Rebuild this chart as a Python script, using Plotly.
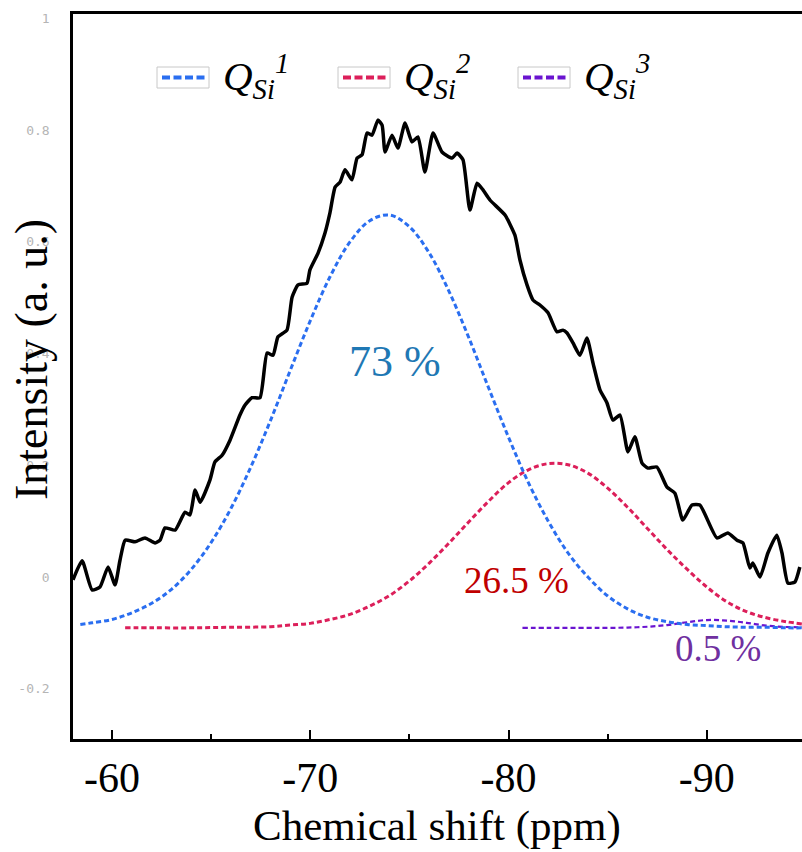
import plotly.graph_objects as go

# ---- measured spectrum (chemical shift in ppm, intensity a.u.) ----
shift = [-58.03, -58.49, -58.99, -59.39, -59.80, -60.15, -60.40, -60.66, -61.16, -61.66,
         -62.17, -62.42, -62.67, -63.18, -63.68, -63.93, -64.19, -64.44, -64.94, -65.19,
         -65.55, -65.95, -66.45, -66.71, -67.06, -67.46, -67.82, -68.12, -68.37, -68.82,
         -69.08, -69.38, -69.83, -69.98, -70.39, -70.74, -70.99, -71.25, -71.50, -71.75,
         -72.10, -72.36, -72.61, -72.86, -73.11, -73.41, -73.62, -73.77, -74.12, -74.42,
         -74.78, -75.13, -75.43, -75.78, -76.19, -76.64, -77.15, -77.40, -77.70, -78.05,
         -78.41, -78.71, -79.06, -79.82, -80.32, -80.57, -80.93, -81.23, -81.58, -81.99,
         -82.44, -82.74, -82.95, -83.25, -83.60, -83.95, -84.26, -84.61, -84.96, -85.26,
         -85.62, -86.02, -86.37, -86.73, -87.03, -87.48, -87.99, -88.39, -88.79, -89.25,
         -89.65, -90.51, -91.06, -91.52, -91.82, -92.17, -92.32, -92.68, -93.08, -93.53,
         -93.79, -94.09, -94.44, -94.69]
intensity = [-0.005, 0.029, -0.023, -0.018, 0.018, -0.014, 0.030, 0.066, 0.063, 0.070,
             0.061, 0.066, 0.088, 0.084, 0.116, 0.111, 0.156, 0.134, 0.174, 0.206,
             0.218, 0.245, 0.290, 0.308, 0.321, 0.321, 0.401, 0.397, 0.430, 0.442,
             0.501, 0.523, 0.526, 0.550, 0.580, 0.616, 0.652, 0.698, 0.707, 0.729,
             0.711, 0.750, 0.756, 0.795, 0.791, 0.818, 0.809, 0.761, 0.791, 0.768,
             0.813, 0.779, 0.788, 0.725, 0.795, 0.761, 0.750, 0.759, 0.747, 0.657,
             0.705, 0.693, 0.675, 0.648, 0.612, 0.568, 0.523, 0.496, 0.487, 0.473,
             0.439, 0.442, 0.437, 0.419, 0.397, 0.428, 0.383, 0.335, 0.312, 0.281,
             0.290, 0.224, 0.251, 0.204, 0.195, 0.197, 0.161, 0.150, 0.102, 0.129,
             0.129, 0.070, 0.079, 0.066, 0.061, 0.016, 0.025, 0.000, 0.043, 0.075,
             0.043, -0.011, -0.009, 0.018]

# ---- fitted components ----
q1_shift = [-58.4, -59, -60, -61, -62, -63, -64, -65, -66, -67, -68, -69, -70, -71, -72,
            -73, -74, -75, -76, -77, -78, -79, -80, -81, -82, -83, -84, -85, -86, -87,
            -88, -89, -90, -91, -92, -93, -94, -94.8]
q1_int = [-0.085, -0.082, -0.076, -0.064, -0.047, -0.022, 0.014, 0.062, 0.123, 0.197,
          0.281, 0.371, 0.459, 0.538, 0.600, 0.638, 0.648, 0.627, 0.580, 0.511,
          0.428, 0.338, 0.250, 0.169, 0.100, 0.043, 0.000, -0.034, -0.057, -0.072,
          -0.080, -0.085, -0.087, -0.089, -0.090, -0.090, -0.091, -0.091]

q2_shift = [-60.66, -62, -64, -66, -68, -69, -70, -71, -72, -73, -74, -75, -76, -77, -78,
            -79, -80, -81, -82, -83, -84, -85, -86, -87, -88, -89, -90, -91, -92, -93,
            -94, -94.8]
q2_int = [-0.091, -0.091, -0.091, -0.090, -0.089, -0.086, -0.083, -0.076, -0.067, -0.052,
          -0.033, -0.007, 0.025, 0.061, 0.099, 0.136, 0.169, 0.192, 0.203, 0.201,
          0.186, 0.159, 0.125, 0.087, 0.049, 0.014, -0.018, -0.044, -0.062, -0.073,
          -0.080, -0.084]

q3_shift = [-80.7, -82, -84, -85, -86, -87, -88, -89, -90, -91, -92, -93, -94, -94.8]
q3_int = [-0.091, -0.091, -0.091, -0.091, -0.0905, -0.089, -0.086, -0.081, -0.077, -0.078,
          -0.082, -0.087, -0.0895, -0.090]

x_ticks = [-60, -70, -80, -90]
x_minor = [-65, -75, -85]
y_ticks = [-0.2, 0, 0.2, 0.4, 0.6, 0.8, 1]
y_ticktext = ["-0.2", "0", "0.2", "0.4", "0.6", "0.8", "1"]

names = ["<i>Q</i><sub><i>Si</i></sub><sup><i>1</i></sup>",
         "<i>Q</i><sub><i>Si</i></sub><sup><i>2</i></sup>",
         "<i>Q</i><sub><i>Si</i></sub><sup><i>3</i></sup>"]
pct_labels = ["73 %", "26.5 %", "0.5 %"]

BLUE = "#2a6ef0"
RED = "#dc1f5a"
PURPLE = "#6a14d0"
SERIF = "Liberation Serif"

fig = go.Figure()
fig.add_trace(go.Scatter(x=q3_shift, y=q3_int, mode="lines", line_shape="spline",
                         line=dict(color=PURPLE, width=2.2, dash="5px,3px"), showlegend=False))
fig.add_trace(go.Scatter(x=q2_shift, y=q2_int, mode="lines", line_shape="spline",
                         line=dict(color=RED, width=3, dash="5px,3px"), showlegend=False))
fig.add_trace(go.Scatter(x=q1_shift, y=q1_int, mode="lines", line_shape="spline",
                         line=dict(color=BLUE, width=3, dash="5px,3px"), showlegend=False))
fig.add_trace(go.Scatter(x=shift, y=intensity, mode="lines",
                         line=dict(color="black", width=3.5, shape="spline", smoothing=0.5),
                         showlegend=False))

L, R, T, B = 73, 802, 14, 739
def fx(px):
    return (px - L) / (R - L)
def fy(py):
    return (B - py) / (B - T)

shapes = []
annotations = []
legend_boxes = [(157, 209, BLUE), (338, 390, RED), (518, 570, PURPLE)]
for i, (x0, x1, col) in enumerate(legend_boxes):
    shapes.append(dict(type="rect", xref="paper", yref="paper",
                       x0=fx(x0), x1=fx(x1), y0=fy(88), y1=fy(67),
                       line=dict(color="#c8c8c8", width=1), fillcolor="rgba(0,0,0,0)"))
    shapes.append(dict(type="line", xref="paper", yref="paper",
                       x0=fx(x0 + 5), x1=fx(x1 - 4), y0=fy(77.5), y1=fy(77.5),
                       line=dict(color=col, width=4, dash="8px,3.5px")))
    annotations.append(dict(xref="paper", yref="paper", x=fx(x1 + 12), y=fy(76),
                            xanchor="left", yanchor="middle", showarrow=False,
                            text=names[i], font=dict(family=SERIF, size=41, color="black")))

annotations.append(dict(x=-74.27, y=0.385, text=pct_labels[0], showarrow=False,
                        font=dict(family=SERIF, size=44, color="#1f78b4")))
annotations.append(dict(x=-80.42, y=-0.006, text=pct_labels[1], showarrow=False,
                        font=dict(family=SERIF, size=37, color="#c00000")))
annotations.append(dict(x=-90.56, y=-0.128, text=pct_labels[2], showarrow=False,
                        font=dict(family=SERIF, size=37, color="#7030a0")))
annotations.append(dict(xref="paper", yref="paper", x=fx(31), y=fy(360),
                        xanchor="center", yanchor="middle", textangle=-90, showarrow=False,
                        text="Intensity (a. u.)", font=dict(family=SERIF, size=46, color="black")))
annotations.append(dict(xref="paper", yref="paper", x=fx(437), y=fy(826),
                        xanchor="center", yanchor="middle", showarrow=False,
                        text="Chemical shift (ppm)", font=dict(family=SERIF, size=43, color="black")))

fig.update_layout(
    width=802, height=852,
    margin=dict(l=L, r=802 - R, t=T, b=852 - B),
    paper_bgcolor="white", plot_bgcolor="white",
    showlegend=False,
    shapes=shapes, annotations=annotations,
    xaxis=dict(range=[-58.03, -94.8], tickvals=x_ticks, ticktext=[str(v) for v in x_ticks],
               ticks="inside", ticklen=9, tickwidth=2, tickcolor="black",
               minor=dict(tickvals=x_minor, ticks="inside", ticklen=5, tickwidth=2, tickcolor="black"),
               showline=True, linecolor="black", linewidth=2.5, mirror=True,
               showgrid=False, zeroline=False,
               tickfont=dict(family=SERIF, size=42, color="black")),
    yaxis=dict(range=[-0.290, 1.008], tickvals=y_ticks, ticktext=y_ticktext,
               ticks="", showline=True, linecolor="black", linewidth=2.5,
               showgrid=False, zeroline=False, ticklabelstandoff=18,
               tickfont=dict(family="DejaVu Sans Mono", size=13, color="#b5b5b5")),
)

fig.write_html("out.html")
